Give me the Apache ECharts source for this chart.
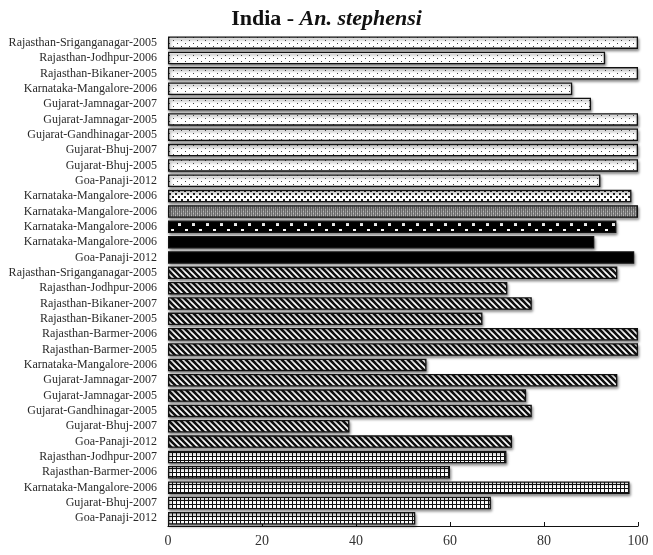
<!DOCTYPE html>
<html>
<head>
<meta charset="utf-8">
<script src="https://cdn.jsdelivr.net/npm/echarts@6/dist/echarts.min.js"></script>
<style>
  html, body { margin: 0; padding: 0; background: #fff; }
  #chart { width: 653px; height: 555px; }
</style>
</head>
<body>
<div id="chart"></div>
<script>
// rows, top to bottom
const categories = [
  "Rajasthan-Sriganganagar-2005", "Rajasthan-Jodhpur-2006", "Rajasthan-Bikaner-2005",
  "Karnataka-Mangalore-2006", "Gujarat-Jamnagar-2007", "Gujarat-Jamnagar-2005",
  "Gujarat-Gandhinagar-2005", "Gujarat-Bhuj-2007", "Gujarat-Bhuj-2005", "Goa-Panaji-2012",
  "Karnataka-Mangalore-2006", "Karnataka-Mangalore-2006", "Karnataka-Mangalore-2006",
  "Karnataka-Mangalore-2006", "Goa-Panaji-2012",
  "Rajasthan-Sriganganagar-2005", "Rajasthan-Jodhpur-2006", "Rajasthan-Bikaner-2007",
  "Rajasthan-Bikaner-2005", "Rajasthan-Barmer-2006", "Rajasthan-Barmer-2005",
  "Karnataka-Mangalore-2006", "Gujarat-Jamnagar-2007", "Gujarat-Jamnagar-2005",
  "Gujarat-Gandhinagar-2005", "Gujarat-Bhuj-2007", "Goa-Panaji-2012",
  "Rajasthan-Jodhpur-2007", "Rajasthan-Barmer-2006", "Karnataka-Mangalore-2006",
  "Gujarat-Bhuj-2007", "Goa-Panaji-2012"
];
const values = [
  100, 93, 100, 86, 90, 100, 100, 100, 100, 92,
  98.6, 100, 95.4, 90.7, 99.2,
  95.6, 72.2, 77.4, 66.9, 100, 100, 55, 95.6, 76.2, 77.4, 38.6, 73.2,
  72, 60, 98.2, 68.7, 52.6
];
// insecticide group of each row (decides the fill)
const groups = [
  "a", "a", "a", "a", "a", "a", "a", "a", "a", "a",
  "b", "c", "d", "e", "e",
  "f", "f", "f", "f", "f", "f", "f", "f", "f", "f", "f", "f",
  "g", "g", "g", "g", "g"
];
const xTicks = [0, 20, 40, 60, 80, 100];

function makeTile(w, h, bg, draw) {
  const c = document.createElement("canvas");
  c.width = w; c.height = h;
  const ctx = c.getContext("2d");
  ctx.fillStyle = bg;
  ctx.fillRect(0, 0, w, h);
  draw(ctx);
  return { image: c, repeat: "repeat" };
}

const fills = {
  // sparse small dots
  a: makeTile(8, 6, "#fff", ctx => {
    ctx.fillStyle = "#444";
    ctx.fillRect(1, 1, 1, 1);
    ctx.fillRect(5, 4, 1, 1);
  }),
  // denser dots
  b: makeTile(6, 6, "#fff", ctx => {
    ctx.fillStyle = "#222";
    ctx.fillRect(1, 1, 2, 2);
    ctx.fillRect(4, 4, 2, 2);
  }),
  // fine grey weave
  c: makeTile(4, 4, "#9a9a9a", ctx => {
    ctx.fillStyle = "#666";
    ctx.fillRect(0, 0, 1, 4);
    ctx.fillRect(2, 0, 1, 4);
    ctx.fillStyle = "#bbb";
    ctx.fillRect(1, 1, 1, 1);
    ctx.fillRect(3, 3, 1, 1);
  }),
  // black with white dots
  d: makeTile(14, 12, "#000", ctx => {
    ctx.fillStyle = "#fff";
    ctx.fillRect(3, 1, 3, 2);
    ctx.fillRect(10, 7, 3, 3);
  }),
  e: "#000",
  // diagonal stripes
  f: makeTile(6, 6, "#fff", ctx => {
    ctx.strokeStyle = "#111";
    ctx.lineWidth = 2.6;
    ctx.beginPath();
    for (let k = -6; k <= 12; k += 6) {
      ctx.moveTo(k - 1, -1);
      ctx.lineTo(k + 7, 7);
    }
    ctx.stroke();
  }),
  // small grid
  g: makeTile(4, 4, "#fff", ctx => {
    ctx.fillStyle = "#111";
    ctx.fillRect(0, 0, 4, 1);
    ctx.fillRect(0, 0, 1, 4);
  })
};

const chart = echarts.init(document.getElementById("chart"));
const options = {
  animation: false,
  title: {
    text: "{b|India - }{i|An. stephensi}",
    left: "center",
    top: 3,
    textStyle: {
      rich: {
        b: { fontFamily: "Liberation Serif", fontWeight: "bold", fontSize: 22, color: "#111" },
        i: { fontFamily: "Liberation Serif", fontWeight: "bold", fontStyle: "italic", fontSize: 22, color: "#111" }
      }
    }
  },
  grid: {
    left: 168,
    right: 15,
    top: 35,
    bottom: 29,
    containLabel: false
  },
  xAxis: {
    type: "value",
    min: xTicks[0],
    max: xTicks[xTicks.length - 1],
    interval: 20,
    axisLine: { show: true, lineStyle: { color: "#111", width: 1.2 } },
    axisTick: { show: true, inside: true, length: 4, lineStyle: { color: "#111" } },
    axisLabel: {
      margin: 8,
      fontFamily: "Liberation Serif",
      fontSize: 14,
      color: "#333"
    },
    splitLine: { show: false }
  },
  yAxis: {
    type: "category",
    inverse: true,
    data: categories,
    axisLine: { show: false },
    axisTick: { show: false },
    axisLabel: {
      interval: 0,
      margin: 11,
      fontFamily: "Liberation Serif",
      fontSize: 12,
      color: "#2a2a2a"
    }
  },
  series: [
    {
      type: "bar",
      barWidth: 12.5,
      data: values.map((v, i) => ({
        value: v,
        itemStyle: {
          color: fills[groups[i]],
          borderColor: "#111",
          borderWidth: 1.3,
          shadowColor: "rgba(0,0,0,0.45)",
          shadowBlur: 3,
          shadowOffsetX: 1,
          shadowOffsetY: 2
        }
      }))
    }
  ]
};
chart.setOption(options);
</script>
</body>
</html>
